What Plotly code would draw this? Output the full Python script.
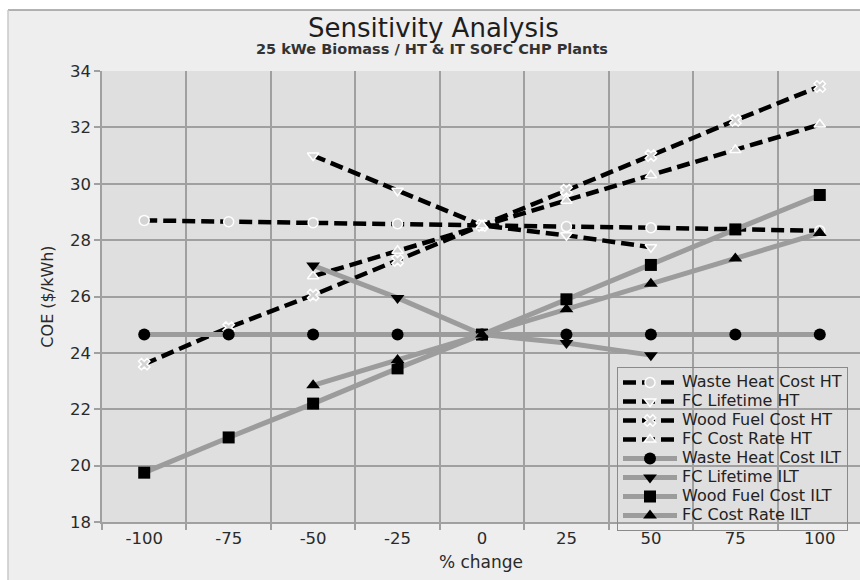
import plotly.graph_objects as go

# ---- data ----
categories = ["-100", "-75", "-50", "-25", "0", "25", "50", "75", "100"]

waste_heat_ht = [28.70, 28.65, 28.62, 28.58, 28.52, 28.48, 28.44, 28.38, 28.33]
fc_lifetime_ht = [None, None, 31.00, 29.75, 28.52, 28.17, 27.75, None, None]
wood_fuel_ht = [23.60, 24.90, 26.05, 27.28, 28.52, 29.77, 31.00, 32.25, 33.45]
fc_rate_ht = [None, None, 26.72, 27.62, 28.52, 29.40, 30.30, 31.20, 32.10]

waste_heat_ilt = [24.65, 24.65, 24.65, 24.65, 24.65, 24.65, 24.65, 24.65, 24.65]
fc_lifetime_ilt = [None, None, 27.10, 25.95, 24.65, 24.35, 23.92, None, None]
wood_fuel_ilt = [19.75, 21.00, 22.20, 23.45, 24.65, 25.90, 27.12, 28.38, 29.60]
fc_rate_ilt = [None, None, 22.85, 23.75, 24.65, 25.55, 26.45, 27.35, 28.25]

y_ticks = [18, 20, 22, 24, 26, 28, 30, 32, 34]

FONT = "DejaVu Sans"

fig = go.Figure()

ht_series = [
    ("Waste Heat Cost HT", waste_heat_ht, "circle"),
    ("FC Lifetime HT", fc_lifetime_ht, "triangle-down"),
    ("Wood Fuel Cost HT", wood_fuel_ht, "x"),
    ("FC Cost Rate HT", fc_rate_ht, "triangle-up"),
]
ilt_series = [
    ("Waste Heat Cost ILT", waste_heat_ilt, "circle"),
    ("FC Lifetime ILT", fc_lifetime_ilt, "triangle-down"),
    ("Wood Fuel Cost ILT", wood_fuel_ilt, "square"),
    ("FC Cost Rate ILT", fc_rate_ilt, "triangle-up"),
]

def legend_label(s):
    return '<span style="font-size:16px">' + s + '</span>'

for name, vals, sym in ht_series:
    fig.add_trace(go.Scatter(
        x=categories, y=vals, name=legend_label(name), mode="lines+markers",
        line=dict(color="#000000", width=4.5, dash="13px,6px"),
        marker=dict(symbol=sym, size=10, color="#d4d4d4",
                    line=dict(color="#ffffff", width=1.5)),
    ))

for name, vals, sym in ilt_series:
    fig.add_trace(go.Scatter(
        x=categories, y=vals, name=legend_label(name), mode="lines+markers",
        line=dict(color="#9c9c9c", width=5),
        marker=dict(symbol=sym, size=12, color="#000000",
                    line=dict(color="#000000", width=0)),
    ))

# plot geometry in pixels (for shapes outside plot area)
L, R, T, B = 102, 0, 71, 58
W, H = 860, 580
pw = W - L - R
ph = H - T - B

def px_x(x):
    return (x - L) / pw

def px_y(y):
    return (H - B - y) / ph

shapes = [
    # outer frame
    dict(type="rect", xref="paper", yref="paper",
         x0=px_x(8), x1=px_x(870), y0=px_y(590), y1=px_y(10),
         fillcolor="#eeeeee", line=dict(width=0), layer="below"),
    dict(type="line", xref="paper", yref="paper",
         x0=px_x(8), x1=px_x(870), y0=px_y(10), y1=px_y(10),
         line=dict(color="#9a9a9a", width=1.5), layer="below"),
    dict(type="line", xref="paper", yref="paper",
         x0=px_x(8), x1=px_x(8), y0=px_y(590), y1=px_y(10),
         line=dict(color="#c8c8c8", width=1.5), layer="below"),
    # plot area background
    dict(type="rect", xref="paper", yref="paper", x0=0, x1=1, y0=0, y1=1,
         fillcolor="#dfdfdf", line=dict(width=0), layer="below"),
]

annotations = [
    dict(text="Sensitivity Analysis", xref="paper", yref="paper",
         x=px_x(433), y=px_y(28), xanchor="center", yanchor="middle",
         showarrow=False, font=dict(family=FONT, size=26, color="#1e1e1e")),
    dict(text="<b>25 kWe Biomass / HT &amp; IT SOFC CHP Plants</b>", xref="paper", yref="paper",
         x=px_x(432), y=px_y(49), xanchor="center", yanchor="middle",
         showarrow=False, font=dict(family=FONT, size=14.5, color="#333333")),
]

fig.update_layout(
    width=W, height=H,
    margin=dict(l=L, r=R, t=T, b=B, pad=0),
    paper_bgcolor="#ffffff",
    plot_bgcolor="rgba(0,0,0,0)",
    shapes=shapes,
    annotations=annotations,
    showlegend=True,
    legend=dict(
        x=px_x(617), y=px_y(367), xanchor="left", yanchor="top",
        bgcolor="rgba(0,0,0,0)", bordercolor="#8a8a8a", borderwidth=1,
        font=dict(family=FONT, size=11.2, color="#222222"),
        itemwidth=54, tracegroupgap=0,
    ),
    xaxis=dict(
        type="category", categoryorder="array", categoryarray=categories,
        range=[-0.5, 8.5 - 2 / 84.3], tickson="boundaries",
        showgrid=True, gridcolor="#a0a0a0", gridwidth=1.5,
        showline=True, linecolor="#a0a0a0", linewidth=1.5,
        ticks="outside", ticklen=6, tickcolor="#a0a0a0", tickwidth=1.5,
        tickfont=dict(family=FONT, size=16.5, color="#2a2a2a"),
        title=dict(text="% change", font=dict(family=FONT, size=17, color="#2a2a2a"), standoff=10),
        zeroline=False,
    ),
    yaxis=dict(
        range=[18, 34], tickvals=y_ticks, ticktext=[str(v) for v in y_ticks],
        showgrid=True, gridcolor="#a0a0a0", gridwidth=1.5,
        showline=True, linecolor="#a0a0a0", linewidth=1.5,
        ticks="outside", ticklen=6, tickcolor="#a0a0a0", tickwidth=1.5,
        tickfont=dict(family=FONT, size=16.5, color="#2a2a2a"),
        title=dict(text="COE ($/kWh)", font=dict(family=FONT, size=16, color="#2a2a2a"), standoff=12),
        zeroline=False,
    ),
)

fig.write_html("out.html")
